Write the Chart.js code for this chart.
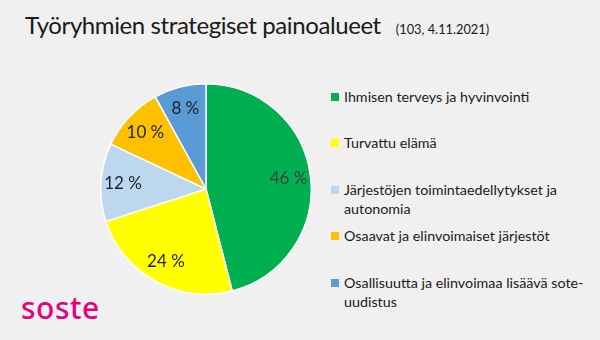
<!DOCTYPE html>
<html lang="fi">
<head>
<meta charset="utf-8">
<title>Työryhmien strategiset painoalueet</title>
<script src="https://cdn.jsdelivr.net/npm/chart.js"></script>
<style>
  html, body { margin: 0; padding: 0; }
  body {
    width: 600px; height: 340px; overflow: hidden; position: relative;
    background: #f0f0f0; font-family: Lato, "Open Sans", sans-serif; color: #1a1a1a;
  }
  #title { position: absolute; left: 25px; top: 10px; font-size: 24px; letter-spacing: -0.4px; white-space: nowrap; }
  #title small { font-size: 12.8px; letter-spacing: 0; margin-left: 15px; }
  #pieBox { position: absolute; left: 100px; top: 83px; width: 212px; height: 212px; }
  #legend { position: absolute; left: 331px; top: 0; }
  .item { position: absolute; left: 0; white-space: nowrap; font-size: 14.3px; line-height: 19.5px; }
  .item i { position: absolute; left: 0; top: 6px; width: 8px; height: 8px; }
  .item span { display: block; margin-left: 13px; }
  #logo {
    position: absolute; left: 21px; top: 287px; font-family: "Noto Sans", sans-serif;
    font-size: 30px; font-weight: 500; letter-spacing: 0.5px; color: #e5007d;
  }
</style>
</head>
<body>
<div id="title">Työryhmien strategiset painoalueet<small>(103, 4.11.2021)</small></div>
<div id="pieBox"><canvas id="pie"></canvas></div>
<div id="legend"></div>
<div id="logo">soste</div>
<script>
// painoalueet ja osuudet (%)
const categories = [
  ['Ihmisen terveys ja hyvinvointi'],
  ['Turvattu elämä'],
  ['Järjestöjen toimintaedellytykset ja', 'autonomia'],
  ['Osaavat ja elinvoimaiset järjestöt'],
  ['Osallisuutta ja elinvoimaa lisäävä sote-', 'uudistus']
];
const shares = [46, 24, 12, 10, 8];
const colors = ['#00b050', '#ffff00', '#bdd7ee', '#ffc000', '#5b9bd5'];

// legenda
const legend = document.getElementById('legend');
categories.forEach((lines, i) => {
  const d = document.createElement('div');
  d.className = 'item';
  d.style.top = (87 + i * 46.4) + 'px';
  d.innerHTML = '<i style="background:' + colors[i] + '"></i><span>' + lines.join('<br>') + '</span>';
  legend.appendChild(d);
});

// prosenttiluvut sektorien sisään
const sliceLabels = {
  id: 'sliceLabels',
  afterDatasetsDraw(chart) {
    const ctx = chart.ctx;
    const meta = chart.getDatasetMeta(0);
    ctx.save();
    ctx.font = '17px Lato, sans-serif';
    ctx.textAlign = 'center';
    ctx.textBaseline = 'middle';
    meta.data.forEach((arc, i) => {
      const mid = (arc.startAngle + arc.endAngle) / 2;
      const r = arc.outerRadius * 0.79;
      ctx.fillStyle = i === 0 ? '#404040' : '#1f1f2e';
      ctx.fillText(shares[i] + ' %', arc.x + Math.cos(mid) * r, arc.y + Math.sin(mid) * r);
    });
    ctx.restore();
  }
};

new Chart(document.getElementById('pie'), {
  type: 'pie',
  data: {
    labels: categories,
    datasets: [{
      data: shares,
      backgroundColor: colors,
      borderColor: '#ffffff',
      borderWidth: 1.5
    }]
  },
  options: {
    responsive: true,
    maintainAspectRatio: false,
    animation: false,
    layout: { padding: 0 },
    plugins: {
      legend: { display: false },
      tooltip: { enabled: false }
    }
  },
  plugins: [sliceLabels]
});
</script>
</body>
</html>
